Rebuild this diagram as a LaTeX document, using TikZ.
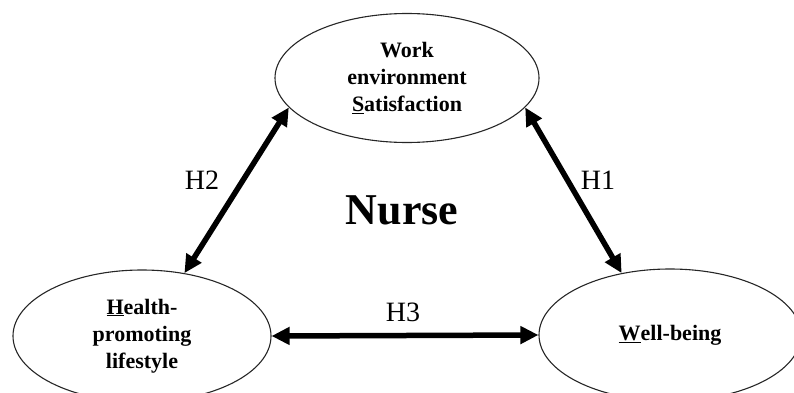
\documentclass[tikz,border=0pt]{standalone}
\usepackage{fontspec}
\setmainfont{Liberation Serif}
\usetikzlibrary{shapes.geometric,arrows.meta}
\begin{document}
\begin{tikzpicture}[x=1pt,y=1pt,
  ell/.style={ellipse,draw=black!85,line width=1.1pt,inner sep=0pt,align=center,
    font=\fontsize{22}{27}\selectfont\bfseries},
  dbl/.style={line width=5.5pt,{Triangle[length=18pt,width=17pt]}-{Triangle[length=18pt,width=17pt]}},
  hlab/.style={font=\fontsize{28}{32}\selectfont},
]
\useasboundingbox (0,0) rectangle (794,392);
\node[ell,minimum width=264pt,minimum height=129pt] (wes) at (407,314)
  {Work\\environment\\\underline{S}atisfaction};
\node[ell,minimum width=258pt,minimum height=132pt] (hpl) at (142,56)
  {\underline{H}ealth-\\promoting\\lifestyle};
\node[ell,minimum width=262pt,minimum height=132pt] (wb) at (670,57)
  {\underline{W}ell-being};
\draw[dbl] (wes.346) -- (wb.128);
\draw[dbl] (wes.194) -- (hpl.56);
\draw[dbl] (hpl.0) -- (wb.180);
\node[hlab] (h1) at (598,212) {H1};
\node[hlab] (h2) at (202,212) {H2};
\node[hlab] (h3) at (403,80) {H3};
\node[font=\fontsize{44}{50}\selectfont\bfseries] (nurse) at (402,182) {Nurse};
\end{tikzpicture}
\end{document}
